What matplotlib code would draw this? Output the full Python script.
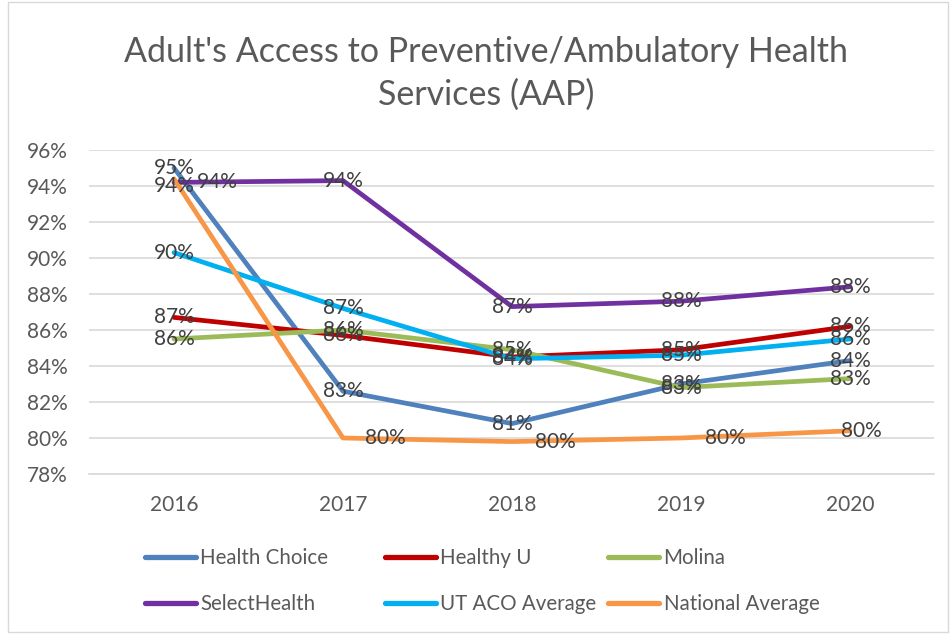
import matplotlib.pyplot as plt
from matplotlib.lines import Line2D
from matplotlib.patches import Rectangle

# Data
years = ['2016', '2017', '2018', '2019', '2020']
health_choice = [95.0, 82.6, 80.8, 83.0, 84.3]
healthy_u = [86.7, 85.7, 84.5, 84.9, 86.2]
molina = [85.5, 86.0, 84.9, 82.8, 83.3]
select_health = [94.2, 94.3, 87.3, 87.6, 88.4]
ut_aco_average = [90.3, 87.2, 84.4, 84.6, 85.5]
national_average = [94.4, 80.0, 79.8, 80.0, 80.4]
y_ticks = [78, 80, 82, 84, 86, 88, 90, 92, 94, 96]

series = [
    ('Health Choice', health_choice, '#4F81BD'),
    ('Healthy U', healthy_u, '#C00000'),
    ('Molina', molina, '#9BBB59'),
    ('SelectHealth', select_health, '#7030A0'),
    ('UT ACO Average', ut_aco_average, '#00B0F0'),
    ('National Average', national_average, '#F79646'),
]

# label nudges in pixels (dx, dy) for labels moved off their point
label_shift = {
    ('SelectHealth', 0): (43, 0),
    ('National Average', 0): (0, -7),
    ('National Average', 1): (42, 0),
    ('National Average', 2): (43, 0),
    ('National Average', 3): (44, 0),
    ('National Average', 4): (11, 0),
}

plt.rcParams['font.family'] = ['Lato', 'DejaVu Sans']
text_color = '#595959'
W, H = 952, 634

fig = plt.figure(figsize=(W / 100, H / 100), dpi=100)
ax = fig.add_axes([0.094, 0.2524, 0.8876, 0.511])

x = list(range(len(years)))
for name, vals, color in series:
    ax.plot(x, vals, color=color, linewidth=3.4, solid_capstyle='round',
            solid_joinstyle='round', label=name, zorder=3)

px = 0.72  # points per pixel at 100 dpi
for name, vals, color in series:
    for i, v in enumerate(vals):
        dx, dy = label_shift.get((name, i), (0, 0))
        ax.annotate(f'{v:.0f}%', (i, v), xytext=(dx * px, dy * px),
                    textcoords='offset points', ha='center', va='center',
                    fontsize=15, color='#404040', zorder=5)

ax.set_xlim(-0.5, 4.5)
ax.set_ylim(78, 96)
ax.set_yticks(y_ticks)
ax.set_yticklabels([f'{t}%' for t in y_ticks])
ax.set_xticks(x)
ax.set_xticklabels(years)
ax.tick_params(axis='both', length=0, labelsize=15, colors=text_color)
ax.tick_params(axis='x', pad=15)
ax.tick_params(axis='y', pad=16)
ax.grid(axis='y', color='#D9D9D9', linewidth=1.2)
ax.set_axisbelow(True)
for side in ['top', 'right', 'left']:
    ax.spines[side].set_visible(False)
ax.spines['bottom'].set_color('#D9D9D9')
ax.spines['bottom'].set_linewidth(1.2)

fig.text(486 / W, 1 - 73.5 / H,
         "Adult's Access to Preventive/Ambulatory Health\nServices (AAP)",
         ha='center', va='center', fontsize=24.5, color=text_color,
         linespacing=1.4)

# legend: three columns placed like the original, two rows each
col_left = [145, 385, 608]
for c in range(3):
    pair = [series[c], series[c + 3]]
    handles = [Line2D([0], [0], color=s[2], linewidth=3.8,
                      solid_capstyle='round') for s in pair]
    leg = fig.legend(handles, [s[0] for s in pair], loc='center left',
                     bbox_to_anchor=(col_left[c] / W, 1 - 581 / H),
                     frameon=False, fontsize=14.8, labelcolor=text_color,
                     handlelength=2.5, handletextpad=0.2, borderpad=0,
                     borderaxespad=0, labelspacing=1.25)

fig.add_artist(Rectangle((8 / W, 0.003), 1 - 12 / W, 0.994, transform=fig.transFigure,
                         fill=False, edgecolor='#D9D9D9', linewidth=1))

fig.savefig('out.png', dpi=100)
